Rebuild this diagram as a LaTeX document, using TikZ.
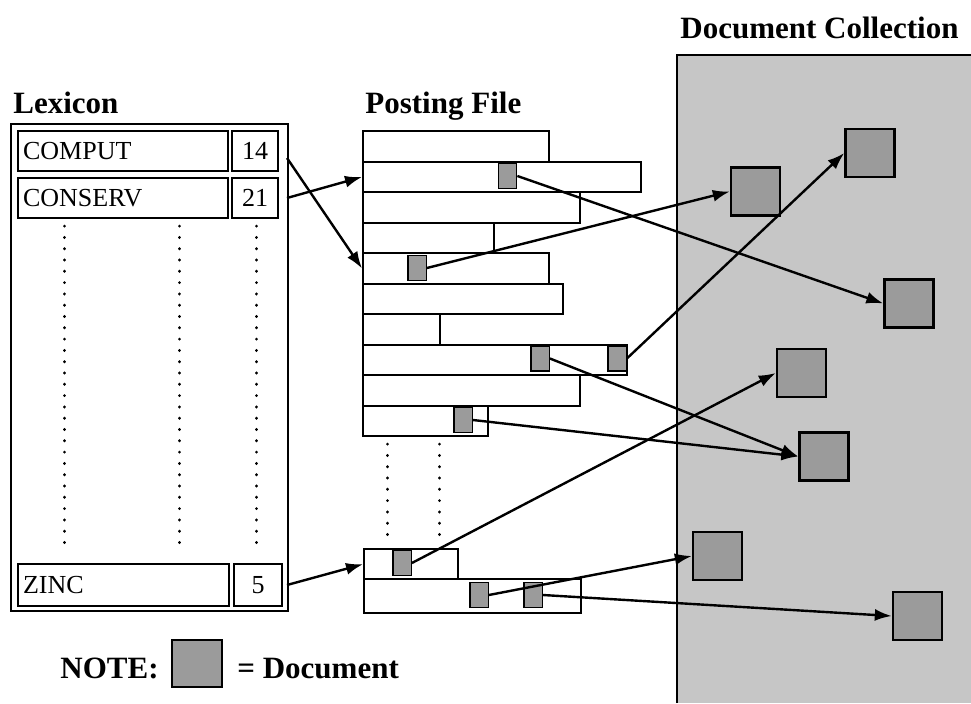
\documentclass[tikz,border=0pt]{standalone}
\usepackage{fontspec}
\setmainfont{Liberation Serif}
\usetikzlibrary{arrows.meta}
\definecolor{collbg}{RGB}{198,198,198}
\definecolor{docfill}{RGB}{155,155,155}

\begin{document}
\begin{tikzpicture}[x=0.5pt,y=-0.5pt,
  title/.style={font=\fontsize{15.5}{18}\selectfont\bfseries, anchor=base west, inner sep=0pt},
  outerbox/.style={draw, line width=1.2pt, anchor=north west, inner sep=0pt},
  termbox/.style={draw, line width=1.1pt, anchor=north west, inner xsep=2.5pt, inner ysep=0pt,
    minimum height=20pt, align=left, font=\fontsize{13}{15}\selectfont},
  countbox/.style={draw, line width=1.1pt, anchor=north west, inner sep=0pt,
    minimum height=20pt, font=\fontsize{13}{15}\selectfont},
  postrow/.style={draw, line width=1.2pt, anchor=north west, inner sep=0pt, minimum height=15.25pt},
  pdoc/.style={draw, fill=docfill, line width=0.7pt, inner sep=0pt, minimum width=9.2pt, minimum height=12.5pt},
  doc/.style={draw, fill=docfill, line width=1.2pt, inner sep=0pt, minimum width=24.5pt, minimum height=24pt},
  conn/.style={line width=1.2pt, -{Latex[length=8.5pt,width=6pt]}},
  dotline/.style={line width=1.5pt, line cap=round, dash pattern=on 0.1pt off 5.55pt}
]
\useasboundingbox (0,0) rectangle (971,703);

% document collection background
\fill[collbg] (677,55) rectangle (971,703);
\draw[line width=1.2pt] (677,703) -- (677,55) -- (971,55);

% titles
\node[title] (tlex) at (13,113) {Lexicon};
\node[title] (tpost) at (365,113) {Posting File};
\node[title] (tcoll) at (680,38) {Document Collection};

% lexicon
\node[outerbox, minimum width=138.5pt, minimum height=243.5pt] (lex) at (10,123) {};
\node[termbox, text width=100pt] (comput) at (17,130) {COMPUT};
\node[countbox, minimum width=23pt] (c14) at (231,130) {14};
\node[termbox, text width=100pt] (conserv) at (17,177) {CONSERV};
\node[countbox, minimum width=23pt] (c21) at (231,177) {21};
\node[termbox, text width=100.5pt, minimum height=21pt] (zinc) at (17,563) {ZINC};
\node[countbox, minimum width=24pt, minimum height=21pt] (c5) at (233,563) {5};
\draw[dotline] (64,226) -- (64,552);
\draw[dotline] (179,226) -- (179,552);
\draw[dotline] (256,226) -- (256,552);

% posting file rows
\node[postrow, minimum width=93pt]   (row1)  at (362,130) {};
\node[postrow, minimum width=139pt]  (row2)  at (362,160.5) {};
\node[postrow, minimum width=108.5pt](row3)  at (362,191) {};
\node[postrow, minimum width=65.5pt] (row4)  at (362,221.5) {};
\node[postrow, minimum width=93pt]   (row5)  at (362,252) {};
\node[postrow, minimum width=100pt]  (row6)  at (362,282.5) {};
\node[postrow, minimum width=38.5pt] (row7)  at (362,313) {};
\node[postrow, minimum width=132pt]  (row8)  at (362,343.5) {};
\node[postrow, minimum width=108.5pt](row9)  at (362,374) {};
\node[postrow, minimum width=62.5pt] (row10) at (362,404.5) {};
\draw[dotline] (387,444) -- (387,540);
\draw[dotline] (439,444) -- (439,540);
\node[postrow, minimum width=47pt, minimum height=15pt]  (rowA) at (363,548) {};
\node[postrow, minimum width=108.5pt, minimum height=17pt] (rowB) at (363,578) {};

% document entries in the postings
\node[pdoc] (p2)  at (507.5,176) {};
\node[pdoc] (p5)  at (417,268) {};
\node[pdoc] (p8a) at (540,358.5) {};
\node[pdoc] (p8b) at (617,358.5) {};
\node[pdoc] (p10) at (463,420) {};
\node[pdoc] (pA)  at (402,563) {};
\node[pdoc] (pB1) at (479,595) {};
\node[pdoc] (pB2) at (533,595) {};

% documents in the collection
\node[doc] (D1) at (755.5,191.5) {};
\node[doc] (D2) at (870,153) {};
\node[doc] (D3) at (909,303.5) {};
\node[doc] (D4) at (801.5,373) {};
\node[doc] (D5) at (824,456.5) {};
\node[doc] (D6) at (717.5,556) {};
\node[doc] (D7) at (917.5,616) {};

% lexicon to posting lists
\coordinate (s14) at (287,158);
\coordinate (s21) at (287,198);
\coordinate (s5) at (287,585);
\draw[conn] (s14) -- (row5.west);
\draw[conn] (s21) -- (row2.west);
\draw[conn] (s5) -- (rowA.west);

% postings to documents
\draw[conn] (p2.east) -- (D3.west);
\draw[conn] (p5.east) -- (D1.west);
\draw[conn] (p8b.east) -- (D2.west);
\draw[conn] (p8a.east) -- (D5.west);
\draw[conn] (p10.east) -- (D5.west);
\draw[conn] (pA.east) -- (D4.west);
\draw[conn] (pB1.east) -- (D6.west);
\draw[conn] (pB2.east) -- (D7.west);

% legend
\node[title] (tnote) at (60,678) {NOTE:};
\node[doc, minimum width=25pt, minimum height=23.5pt] (legdoc) at (197,663.5) {};
\node[title] (teq) at (237,678) {= Document};
\end{tikzpicture}
\end{document}
